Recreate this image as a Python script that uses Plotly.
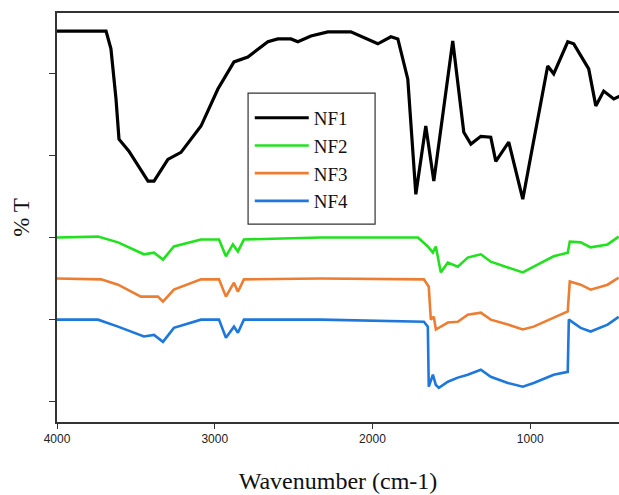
import plotly.graph_objects as go

# NF1 (black)
nf1_wn = [4000, 3689, 3658, 3626, 3607, 3544, 3423, 3385, 3297, 3214, 3087, 2980, 2878, 2790,
          2663, 2600, 2517, 2473, 2390, 2283, 2137, 1966, 1883, 1839, 1776, 1725, 1662, 1611,
          1491, 1421, 1376, 1313, 1250, 1218, 1136, 1047, 996, 889, 851, 762, 724, 629, 584,
          534, 470, 432]
nf1_t = [90.2, 90.2, 85.9, 73.7, 63.9, 61.0, 53.7, 53.7, 59.0, 60.7, 67.1, 76.1, 82.7, 83.9,
         87.6, 88.3, 88.3, 87.6, 89.0, 90.0, 90.0, 87.1, 88.8, 88.3, 78.5, 50.5, 67.1, 53.7,
         87.8, 65.6, 62.7, 64.6, 64.4, 58.5, 63.2, 49.3, 59.8, 81.7, 79.8, 87.6, 87.1, 81.0, 72.0,
         75.6, 73.7, 74.4]

# NF2 (green)
nf2_wn = [4000, 3740, 3613, 3449, 3385, 3328, 3259, 3087, 2973, 2929, 2885, 2853, 2815, 2327,
          1712, 1649, 1617, 1598, 1567, 1522, 1459, 1396, 1313, 1250, 1142, 1047, 978, 851, 762,
          749, 680, 617, 509, 439]
nf2_t = [40.0, 40.2, 38.8, 35.9, 36.3, 34.6, 37.8, 39.5, 39.5, 35.4, 38.3, 36.6, 39.5, 40.0,
         40.0, 37.8, 36.3, 37.8, 31.5, 33.9, 32.9, 35.1, 35.9, 34.1, 32.7, 31.5, 32.9, 35.4, 36.3,
         39.0, 38.8, 37.6, 38.3, 40.2]

# NF3 (orange)
nf3_wn = [4000, 3721, 3613, 3468, 3360, 3328, 3259, 3087, 2973, 2929, 2878, 2853, 2815, 2327,
          1674, 1643, 1630, 1611, 1598, 1567, 1522, 1459, 1396, 1313, 1250, 1142, 1047, 978, 851,
          762, 749, 680, 617, 509, 439]
nf3_t = [30.0, 29.8, 28.5, 25.6, 25.6, 24.4, 27.3, 29.8, 29.8, 25.6, 29.0, 26.8, 29.8, 30.0,
         29.8, 28.0, 20.0, 20.7, 17.6, 18.3, 19.3, 19.5, 21.2, 21.7, 20.0, 18.8, 17.6, 18.3, 20.5,
         22.0, 29.3, 28.5, 27.3, 28.5, 30.2]

# NF4 (blue)
nf4_wn = [4000, 3740, 3613, 3449, 3385, 3328, 3259, 3087, 2973, 2929, 2878, 2853, 2815, 2327,
          1674, 1649, 1643, 1617, 1598, 1579, 1522, 1459, 1396, 1313, 1250, 1142, 1047, 978, 851,
          762, 755, 680, 617, 509, 439]
nf4_t = [20.0, 20.0, 18.3, 15.9, 16.3, 14.6, 18.0, 20.0, 20.0, 15.6, 18.3, 16.8, 20.0, 20.0,
         19.5, 18.3, 3.7, 6.6, 4.1, 3.4, 4.9, 5.9, 6.6, 7.8, 6.1, 4.6, 3.7, 4.6, 6.6,
         7.3, 20.0, 18.0, 17.1, 18.8, 20.7]

x_ticks = [4000, 3000, 2000, 1000]
x_tick_labels = ["4000", "3000", "2000", "1000"]
y_ticks = [0, 20, 40, 60, 80]

series = [
    ("NF1", nf1_wn, nf1_t, "#000000", 3.2),
    ("NF2", nf2_wn, nf2_t, "#22E11E", 2.6),
    ("NF3", nf3_wn, nf3_t, "#ED7D31", 2.6),
    ("NF4", nf4_wn, nf4_t, "#1E78DC", 2.6),
]

serif = "Liberation Serif, Times New Roman, serif"

fig = go.Figure()
for name, x, y, c, w in series:
    fig.add_trace(go.Scatter(x=x, y=y, mode="lines", name=name,
                             line=dict(color=c, width=w)))

# legend frame
fig.add_shape(type="rect", xref="paper", yref="paper",
              x0=0.340, x1=0.566, y0=0.484, y1=0.804,
              line=dict(color="#333333", width=1.2), fillcolor="white", layer="below")

fig.update_layout(
    width=619, height=495,
    margin=dict(l=57, r=0, t=13, b=73),
    paper_bgcolor="white", plot_bgcolor="white",
    showlegend=True,
    legend=dict(x=0.343, y=0.79, xanchor="left", yanchor="top",
                borderwidth=0, bgcolor="rgba(0,0,0,0)",
                font=dict(family=serif, size=19, color="#111111"),
                itemwidth=54, tracegroupgap=0),
    xaxis=dict(range=[4000, 437], tickvals=x_ticks, ticktext=x_tick_labels,
               showline=True, linecolor="#333333", linewidth=1.5, mirror=True,
               ticks="outside", ticklen=5, tickcolor="#333333",
               showgrid=False, zeroline=False, automargin=False,
               tickfont=dict(family="Liberation Sans, Arial, sans-serif", size=12, color="#222222"),
               title=dict(text="Wavenumber (cm-1)", font=dict(family=serif, size=24, color="#111111"),
                          standoff=27)),
    yaxis=dict(range=[-4.9, 94.6], tickvals=y_ticks, showticklabels=False,
               showline=True, linecolor="#333333", linewidth=1.5, mirror=False,
               ticks="outside", ticklen=6, tickcolor="#333333",
               showgrid=False, zeroline=False, automargin=False,
               title=dict(text="% T", font=dict(family=serif, size=23, color="#111111"),
                          standoff=13)),
)

fig.write_html("out.html", config={"displayModeBar": False},
               post_script="document.body.style.margin='0';document.body.style.overflow='hidden';")
